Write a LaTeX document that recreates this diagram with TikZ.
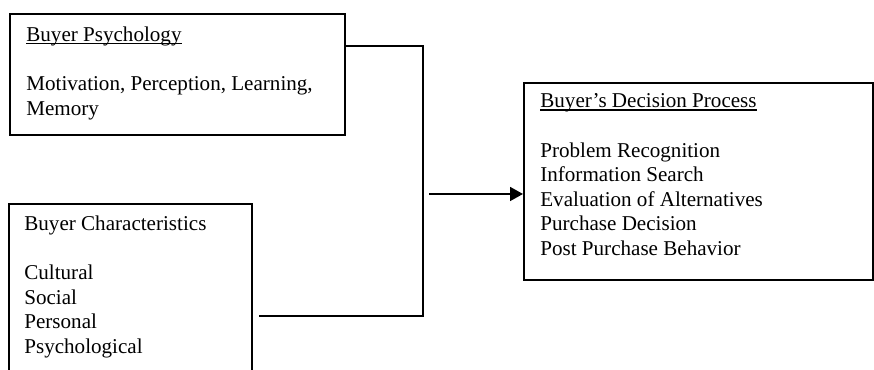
\documentclass[tikz,border=0pt]{standalone}
\usepackage{fontspec}
\setmainfont{Liberation Serif}
\usepackage{tikz}
\usetikzlibrary{arrows.meta, calc, positioning}

% word style underline, close under the baseline
\newcommand{\headline}[1]{\setbox0\hbox{#1}\rlap{\rule[-1.5pt]{\wd0}{0.6pt}}#1}

\begin{document}
\begin{tikzpicture}[
	box/.style={draw, line width=1pt, anchor=north west, inner sep=0pt},
	txt/.style={align=left, inner sep=0pt, font=\fontsize{12}{14}\selectfont},
	wire/.style={line width=1pt}
	]
	\useasboundingbox (0,0) rectangle (17.48,7.4);
	\coordinate (jtop) at (8.46,6.48);
	\coordinate (jbot) at (8.46,1.08);
	\coordinate (cfoot) at (5.18,1.08);
	\coordinate (ain) at (8.58,3.52);

	% buyer psychology
	\node[box, minimum width=6.7cm, minimum height=2.42cm] (psych) at (0.18,7.14) {};
	\node[txt, below right=0.27cm and 0.34cm of psych.north west] (psychtxt)
	{\headline{Buyer Psychology}\\[14pt]Motivation, Perception, Learning,\\Memory};

	% buyer characteristics (runs off the bottom)
	\node[box, minimum width=4.86cm, minimum height=4cm] (chars) at (0.16,3.34) {};
	\node[txt, below right=0.25cm and 0.32cm of chars.north west] (charstxt)
	{Buyer Characteristics\\[14pt]Cultural\\Social\\Personal\\Psychological};

	% decision process
	\node[box, minimum width=6.98cm, minimum height=3.94cm] (decision) at (10.46,5.76) {};
	\node[txt, below right=0.23cm and 0.34cm of decision.north west] (decisiontxt)
	{\headline{Buyer’s Decision Process}\\[14pt]Problem Recognition\\Information Search\\Evaluation of Alternatives\\Purchase Decision\\Post Purchase Behavior};

	% joining lines
	\draw[wire] (psych.east |- jtop) -- (jtop) -- (jbot) -- (cfoot);
	\draw[wire, -{Triangle[length=0.26cm, width=0.28cm]}] (ain) -- (ain -| decision.west);
\end{tikzpicture}
\end{document}
